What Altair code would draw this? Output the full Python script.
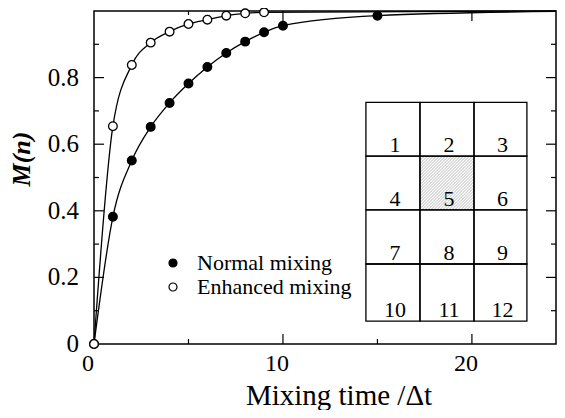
import altair as alt
import pandas as pd
import numpy as np

# ---------------- data ----------------
steps_enh = [0, 1, 2, 3, 4, 5, 6, 7, 8, 9]
m_enh = [0.0, 0.654, 0.838, 0.905, 0.938, 0.961, 0.974, 0.986, 0.993, 0.996]
steps_norm = [0, 1, 2, 3, 4, 5, 6, 7, 8, 9, 10, 15]
m_norm = [0.0, 0.382, 0.551, 0.652, 0.724, 0.782, 0.832, 0.874, 0.908, 0.936, 0.956, 0.986]
# where the fitted curves leave the frame on the right
curve_end_x = 24.45
curve_end_enh = 1.0
curve_end_norm = 0.999

series_names = ["Normal mixing", "Enhanced mixing"]
x_title = ["Mixing time /Δt"]
y_title = ["M(n)"]

x_labels = [0, 10, 20]
x_label_text = ["0", "10", "20"]
y_labels = [0, 0.2, 0.4, 0.6, 0.8]
y_label_text = ["0", "0.2", "0.4", "0.6", "0.8"]
x_major = [10, 20]
x_minor = [5, 15]
y_major = [0.2, 0.4, 0.6, 0.8]
y_minor = [0.1, 0.3, 0.5, 0.7, 0.9]

# inset 3x4 cell diagram (in data units)
grid_x_edges = [14.39, 17.25, 20.11, 22.91]
grid_y_edges = [0.7254, 0.5642, 0.4030, 0.2403, 0.0687]
cell_labels = [[1, 2, 3], [4, 5, 6], [7, 8, 9], [10, 11, 12]]
hatched_cell = 5

# ---------------- layout / style ----------------
SERIF = "Liberation Serif"
W, H = 462, 333
XMAX = 24.45
xs = alt.Scale(domain=[0, XMAX], nice=False, zero=False)
ys = alt.Scale(domain=[0, 1], nice=False, zero=False)

def X(f):
    return alt.X(f, scale=xs, axis=None)

def Y(f):
    return alt.Y(f, scale=ys, axis=None)

# ---------------- tables ----------------
pts = pd.DataFrame({
    "t": steps_norm + steps_enh,
    "m": m_norm + m_enh,
    "series": [series_names[0]] * len(steps_norm) + [series_names[1]] * len(steps_enh),
})
curves = pd.DataFrame({
    "t": steps_norm + [curve_end_x] + steps_enh + [curve_end_x],
    "m": m_norm + [curve_end_norm] + m_enh + [curve_end_enh],
    "series": [series_names[0]] * (len(steps_norm) + 1) + [series_names[1]] * (len(steps_enh) + 1),
})

cells = []
for r, row in enumerate(cell_labels):
    for c, lab in enumerate(row):
        cells.append({"x0": grid_x_edges[c], "x1": grid_x_edges[c + 1],
                      "y0": grid_y_edges[r + 1], "y1": grid_y_edges[r],
                      "cx": (grid_x_edges[c] + grid_x_edges[c + 1]) / 2,
                      "label": str(lab)})
cells = pd.DataFrame(cells)

# hatching of the marked cell, derived from its bounds
hc = cells[cells["label"] == str(hatched_cell)].iloc[0]
pxX, pxY = W / XMAX, H / 1.0
Wp = (hc.x1 - hc.x0) * pxX
Hp = (hc.y1 - hc.y0) * pxY
hatch = []
for k in np.arange(-Hp + 1.5, Wp, 3.0):
    u0, u1 = max(0.0, k), min(Wp, Hp + k)
    if u1 > u0:
        hatch.append({"xa": hc.x0 + u0 / pxX, "ya": hc.y0 + (u0 - k) / pxY,
                      "xb": hc.x0 + u1 / pxX, "yb": hc.y0 + (u1 - k) / pxY})
hatch = pd.DataFrame(hatch)

# ---------------- layers ----------------
hatch_layer = alt.Chart(hatch).mark_rule(color="#8a8a8a", strokeWidth=0.6).encode(
    x=X("xa:Q"), y=Y("ya:Q"), x2="xb:Q", y2="yb:Q")

cell_layer = alt.Chart(cells).mark_rect(filled=False, stroke="black", strokeWidth=1.3).encode(
    x=X("x0:Q"), x2="x1:Q", y=Y("y0:Q"), y2="y1:Q")

cell_text = alt.Chart(cells).mark_text(font=SERIF, fontSize=22, color="black", align="center",
                                       baseline="alphabetic", dx=2, dy=-4).encode(
    x=X("cx:Q"), y=Y("y0:Q"), text="label:N")

line_layer = alt.Chart(curves).mark_line(color="black", strokeWidth=1.3,
                                         interpolate="monotone").encode(
    x=X("t:Q"), y=Y("m:Q"), detail="series:N", order="t:Q")

point_layer = alt.Chart(pts).mark_point(shape="circle", filled=True, size=75, stroke="black",
                                        strokeWidth=1.3, opacity=1).encode(
    x=X("t:Q"), y=Y("m:Q"),
    fill=alt.Fill("series:N", scale=alt.Scale(domain=series_names, range=["black", "white"]),
                  legend=alt.Legend(orient="none", legendX=68, legendY=241, title=None,
                                    labelFont=SERIF, labelFontSize=22, labelColor="black",
                                    labelLimit=300, symbolType="circle", symbolSize=64,
                                    symbolStrokeColor="black", symbolStrokeWidth=1.2,
                                    symbolOpacity=1, labelOffset=13, rowPadding=2, padding=0,
                                    direction="vertical")),
    order=alt.Order("t:Q"))

def yticks(vals, x_from, x_to):
    return alt.Chart(pd.DataFrame({"v": vals})).mark_rule(color="black", strokeWidth=1.2).encode(
        y=Y("v:Q"), x=alt.value(x_from), x2=alt.value(x_to))

def xticks(vals, y_from, y_to):
    return alt.Chart(pd.DataFrame({"v": vals})).mark_rule(color="black", strokeWidth=1.2).encode(
        x=X("v:Q"), y=alt.value(y_from), y2=alt.value(y_to))

ticks = [
    yticks(y_major, 0, 10), yticks(y_minor, 0, 5),
    yticks(y_major, W - 10, W), yticks(y_minor, W - 5, W),
    xticks(x_major, 0, 10), xticks(x_minor, 0, 4),
    xticks(x_major, H - 10, H), xticks(x_minor, H - 5, H),
]

# tick labels and axis titles as text
ylab = alt.Chart(pd.DataFrame({"v": y_labels, "s": y_label_text})).mark_text(
    font=SERIF, fontSize=25, color="black", align="right", baseline="middle").encode(
    y=Y("v:Q"), x=alt.value(-15), text="s:N")
xlab = alt.Chart(pd.DataFrame({"v": x_labels, "s": x_label_text})).mark_text(
    font=SERIF, fontSize=24, color="black", align="center", baseline="top", dx=-6).encode(
    x=X("v:Q"), y=alt.value(H + 8), text="s:N")
xtit = alt.Chart(pd.DataFrame({"s": x_title})).mark_text(
    font=SERIF, fontSize=29, color="black", align="center", baseline="alphabetic").encode(
    x=alt.value(245), y=alt.value(H + 61), text="s:N")
ytit = alt.Chart(pd.DataFrame({"s": y_title})).mark_text(
    font=SERIF, fontSize=26, fontStyle="italic", fontWeight="bold", color="black",
    align="center", baseline="middle", angle=270).encode(
    x=alt.value(-72), y=alt.value(148), text="s:N")

chart = alt.layer(hatch_layer, cell_layer, cell_text, line_layer, point_layer, *ticks,
                  ylab, xlab, xtit, ytit).properties(
    width=W, height=H,
    padding={"left": 86, "top": 3, "right": 1, "bottom": 66},
    autosize=alt.AutoSizeParams(type="none"),
    background="white",
).configure_view(stroke="black", strokeWidth=1.5)

chart.save("out.html", embed_options={"renderer": "svg", "actions": False})
